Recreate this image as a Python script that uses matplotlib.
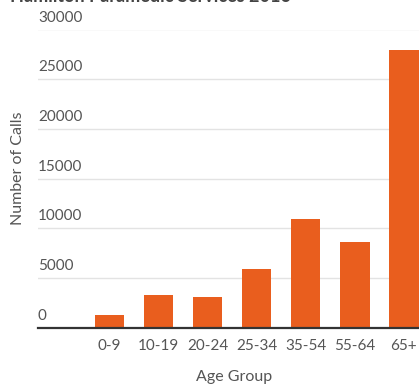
import matplotlib
matplotlib.use("Agg")
import matplotlib.pyplot as plt

categories = ["0-9", "10-19", "20-24", "25-34", "35-54", "55-64", "65+"]
calls = [1270, 3340, 3070, 5940, 10940, 8600, 27900]
yticks = [0, 5000, 10000, 15000, 20000, 25000, 30000]
title = "Hamilton Paramedic Services 2016"

plt.rcParams['font.family'] = ['Lato', 'DejaVu Sans']

W, H = 419, 385
fig = plt.figure(figsize=(W / 100, H / 100), dpi=100)
left = 38 / W
bottom = 1 - 327.7 / H
top = 1 - 29.5 / H
right_px = 109.3 + 49.1 * 7.452
ax = fig.add_axes([left, bottom, (right_px - 38) / W, top - bottom])

x = list(range(len(categories)))
ax.bar(x, calls, width=0.6, color="#E95E1E", zorder=3)
ax.set_xlim(-1.452, 7.452)
ax.set_ylim(0, 30000)

for v in yticks:
    if v > 0:
        ax.axhline(v, color="#e3e3e3", lw=1.0, zorder=1)
    ax.annotate(str(v), xy=(0, v), xycoords=('axes fraction', 'data'),
                xytext=(0, 3.5), textcoords='offset points',
                ha='left', va='bottom', fontsize=11, color="#555555")

ax.set_yticks([])
ax.set_xticks(x)
ax.set_xticklabels(categories, fontsize=11, color="#555555")
ax.tick_params(axis='x', length=0, pad=8)
for s in ['top', 'right', 'left']:
    ax.spines[s].set_visible(False)
ax.spines['bottom'].set_color("#333333")
ax.spines['bottom'].set_linewidth(1.6)
ax.spines['bottom'].set_zorder(4)

fig.text(234 / W, 1 - 376.7 / H, "Age Group", ha='center', va='center',
         fontsize=11.5, color="#555555")
fig.text(18 / W, 1 - 168 / H, "Number of Calls", ha='center', va='center',
         rotation=90, fontsize=11.5, color="#555555")
fig.text(10 / W, 1 - 2 / H, title, ha='left', va='baseline',
         fontsize=13, fontweight='bold', color="#444444")

fig.savefig("out.png", dpi=100)
